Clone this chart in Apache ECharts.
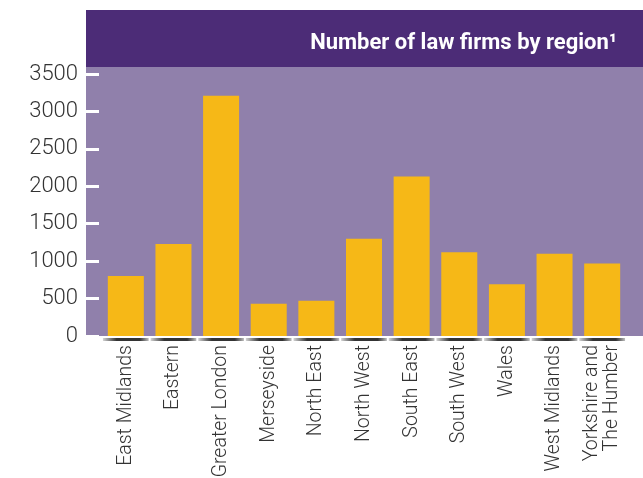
<!DOCTYPE html>
<html><head><meta charset="utf-8">
<script src="https://cdn.jsdelivr.net/npm/echarts@6/dist/echarts.min.js"></script>
<style>html,body{margin:0;padding:0;background:#fff}#c{width:643px;height:478px}</style>
</head><body><div id="c"></div>
<script>
const categories = ['East Midlands','Eastern','Greater London','Merseyside','North East','North West','South East','South West','Wales','West Midlands','Yorkshire and\nThe Humber'];
const firms = [800,1230,3210,430,470,1300,2130,1120,690,1100,970];
const yTicks = [0,500,1000,1500,2000,2500,3000,3500];
const titleText = 'Number of law firms by region\u00B9';

const chart = echarts.init(document.getElementById('c'), null, {renderer:'canvas'});
chart.setOption({
  animation:false,
  backgroundColor:'#ffffff',
  graphic:[
    {type:'rect', z:-10, shape:{x:86,y:10,width:557,height:58}, style:{fill:'#4c2c77'}},
    {type:'rect', z:-10, shape:{x:86,y:67,width:557,height:269}, style:{fill:'#9080ab'}}
  ],
  title:{
    text:titleText, right:21, top:27,
    textStyle:{color:'#ffffff', fontFamily:'Roboto', fontWeight:'bold', fontSize:22}
  },
  grid:{left:102, right:17, top:74, bottom:142, containLabel:false, outerBoundsMode:'none'},
  xAxis:{
    type:'category', data:categories,
    axisLine:{show:false}, axisTick:{show:false},
    axisLabel:{rotate:90, margin:9, color:'#333', fontFamily:'Roboto', fontWeight:300, fontSize:19.5, lineHeight:20, interval:0}
  },
  yAxis:{
    type:'value', min:0, max:3500, interval:500, offset:16,
    axisLine:{show:false},
    axisTick:{show:true, inside:true, length:13, lineStyle:{color:'#ffffff', width:3}},
    splitLine:{show:false},
    axisLabel:{margin:8, color:'#333', fontFamily:'Roboto', fontWeight:300, fontSize:22,
      formatter:function(v){return yTicks.indexOf(v)>=0?String(v):'';}}
  },
  series:[
    {type:'bar', data:firms, barWidth:36, itemStyle:{color:'#f6b817'}},
    {type:'custom', data:firms.map((v,i)=>[i,0]),
      renderItem:function(params, api){
        const p = api.coord([api.value(0), 0]);
        const w = api.size([1,0])[0];
        return {type:'rect', shape:{x:p[0]-w*0.48, y:p[1]+2, width:w*0.96, height:3},
          style:{fill:new echarts.graphic.LinearGradient(0,0,1,0,[
            {offset:0,color:'rgba(40,40,40,0.2)'},{offset:0.3,color:'#333'},{offset:0.8,color:'#333'},{offset:1,color:'rgba(40,40,40,0.3)'}])}};
      }, silent:true, z:1}
  ]
});
</script></body></html>
